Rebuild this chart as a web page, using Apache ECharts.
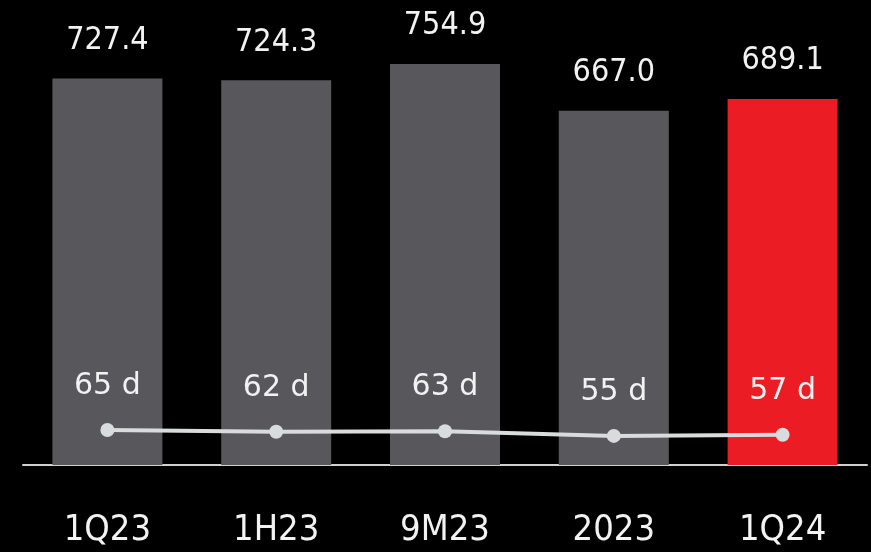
<!DOCTYPE html>
<html><head><meta charset="utf-8">
<script src="https://cdn.jsdelivr.net/npm/echarts@6/dist/echarts.min.js"></script>
<style>html,body{margin:0;padding:0;background:#000;}#c{width:871px;height:552px;}</style>
</head><body><div id="c"></div>
<script>
const categories = ['1Q23','1H23','9M23','2023','1Q24'];
const amounts = [727.4, 724.3, 754.9, 667.0, 689.1];
const days = [65, 62, 63, 55, 57];
const amountLabels = ['727.4','724.3','754.9','667.0','689.1'];

const FONT = '"DejaVu Sans Condensed",sans-serif';
const chart = echarts.init(document.getElementById('c'));
chart.setOption({
  backgroundColor: '#000',
  animation: false,
  grid: {left: 23, right: 4, top: 40, bottom: 87},
  xAxis: {
    type: 'category', data: categories,
    axisTick: {show: false},
    axisLine: {lineStyle: {color: '#d0d0d0', width: 2}},
    axisLabel: {color: '#f2f2f2', fontSize: 36, fontFamily: FONT, margin: 48}
  },
  yAxis: [
    {type: 'value', min: 0, max: 800, show: false, splitLine: {show: false}},
    {type: 'value', min: 5, max: 735, show: false, splitLine: {show: false}}
  ],
  series: [
    {
      type: 'bar', barWidth: 110, yAxisIndex: 0,
      data: amounts.map((v, i) => ({value: v, itemStyle: {color: i === amounts.length - 1 ? '#ec1c24' : '#58585c'}})),
      label: {show: true, position: 'top', distance: 22, color: '#f2f2f2', fontSize: 32, fontFamily: FONT,
        formatter: p => amountLabels[p.dataIndex]}
    },
    {
      type: 'line', yAxisIndex: 1, data: days,
      symbol: 'circle', symbolSize: 14,
      lineStyle: {color: '#d9dcdc', width: 4},
      itemStyle: {color: '#d9dcdc'},
      label: {show: true, position: 'top', distance: 22, color: '#f2f2f2', fontSize: 30, fontFamily: '"DejaVu Sans",sans-serif',
        formatter: p => p.value + ' d'}
    }
  ]
});
</script></body></html>
